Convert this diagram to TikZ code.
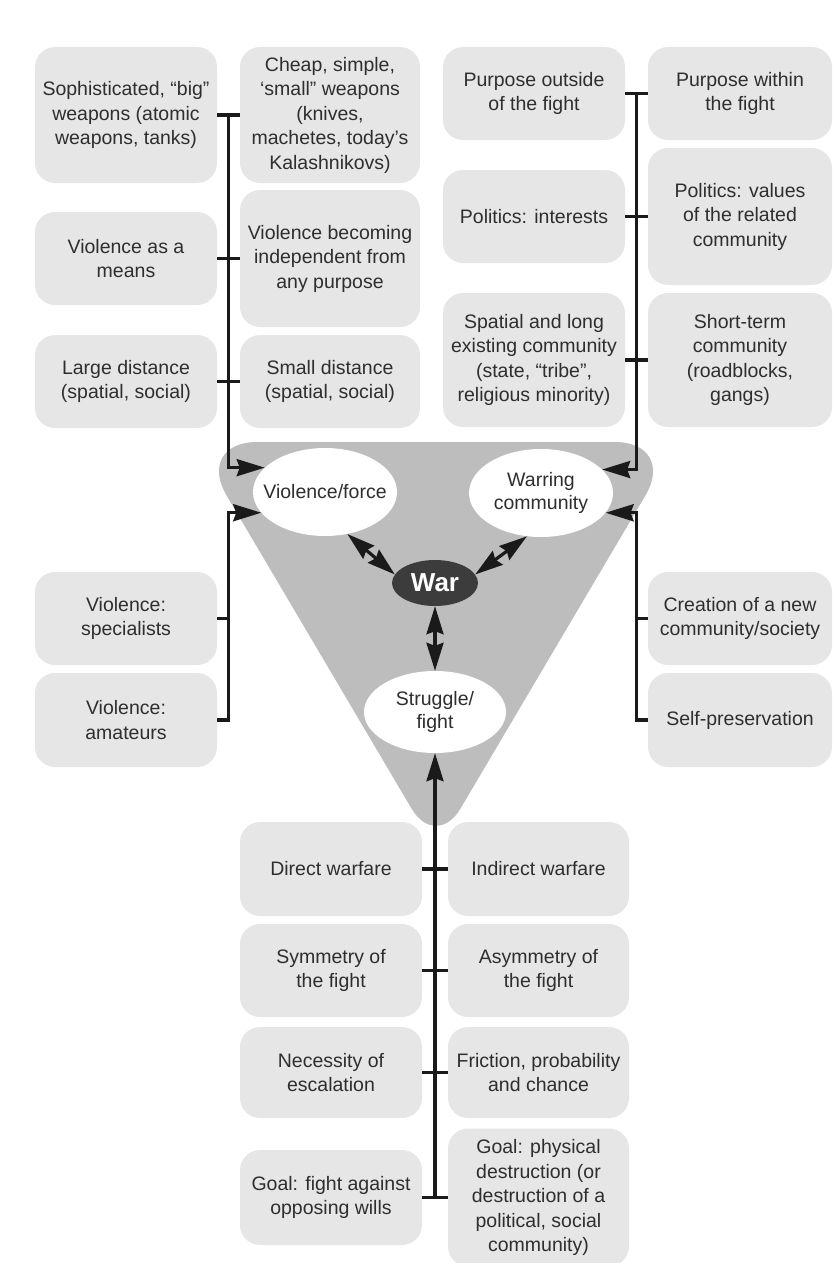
\documentclass[tikz,border=0pt]{standalone}
\usepackage{fontspec}
\setmainfont{Liberation Sans}
\usetikzlibrary{shapes.geometric,arrows.meta}
\definecolor{boxgray}{HTML}{E6E6E6}
\definecolor{trigray}{HTML}{BDBDBD}
\definecolor{wargray}{HTML}{3C3C3C}
\definecolor{txtgray}{HTML}{2E2E2E}
\definecolor{linecol}{HTML}{1A1A1A}
\begin{document}
\begin{tikzpicture}[x=1pt,y=-1pt,
  box/.style={fill=boxgray, rounded corners=20pt, inner sep=0pt, text=txtgray, align=center, font=\fontsize{19.5}{24.5}\selectfont},
  ell/.style={ellipse, fill=white, inner sep=0pt},
  elltext/.style={inner sep=0pt, text=txtgray, align=center, font=\fontsize{19.5}{23}\selectfont},
  conn/.style={draw=linecol, line width=3.2pt},
  arr/.style={conn, -{Stealth[length=28pt,width=17pt,inset=3pt]}},
  darr/.style={conn, {Stealth[length=28pt,width=17pt,inset=3pt]}-{Stealth[length=28pt,width=17pt,inset=3pt]}}]
\useasboundingbox (0,0) rectangle (834,1263);

% central triangle
\fill[trigray] (436,442) [rounded corners=62pt] -- (677,442) [rounded corners=48pt] -- (436,850) [rounded corners=62pt] -- (195,442) -- cycle;

% ellipses
\node[ell, minimum width=144pt, minimum height=88pt] (vf) at (325,492) {};
\node[elltext] (vft) at (vf.center) {Violence/force};
\node[ell, minimum width=144pt, minimum height=88pt] (wc) at (541,493) {};
\node[elltext] (wct) at (wc.center) {Warring\\community};
\node[ell, minimum width=142pt, minimum height=82pt] (sf) at (435,712) {};
\node[elltext] (sft) at (sf.center) {Struggle/\\fight};
\node[ell, fill=wargray, minimum width=86pt, minimum height=46pt] (war) at (435,583) {};
\node[inner sep=0pt, text=white, font=\fontsize{26}{28}\selectfont\bfseries] (wart) at (war.center) {War};

% top-left group
\node[box, minimum width=182pt, minimum height=136pt] (tl1) at (126,115) {Sophisticated, “big”\\weapons (atomic\\weapons, tanks)};
\node[box, minimum width=180pt, minimum height=136pt] (tr1) at (330,115) {Cheap, simple,\\‘small” weapons\\(knives,\\machetes, today’s\\Kalashnikovs)};
\node[box, minimum width=182pt, minimum height=93pt] (tl2) at (126,258.5) {Violence as a\\means};
\node[box, minimum width=180pt, minimum height=137pt] (tr2) at (330,258.5) {Violence becoming\\independent from\\any purpose};
\node[box, minimum width=182pt, minimum height=93pt] (tl3) at (126,381.5) {Large distance\\(spatial, social)};
\node[box, minimum width=180pt, minimum height=93pt] (tr3) at (330,381.5) {Small distance\\(spatial, social)};

% top-right group
\node[box, minimum width=182pt, minimum height=93pt] (rl1) at (534,93.5) {Purpose outside\\of the fight};
\node[box, minimum width=184pt, minimum height=93pt] (rr1) at (740,93.5) {Purpose within\\the fight};
\node[box, minimum width=182pt, minimum height=93pt] (rl2) at (534,216.5) {Politics: interests};
\node[box, minimum width=184pt, minimum height=137pt] (rr2) at (740,216.5) {Politics: values\\of the related\\community};
\node[box, minimum width=182pt, minimum height=134pt] (rl3) at (534,360) {Spatial and long\\existing community\\(state, “tribe”,\\religious minority)};
\node[box, minimum width=184pt, minimum height=134pt] (rr3) at (740,360) {Short-term\\community\\(roadblocks,\\gangs)};

% middle-left group
\node[box, minimum width=182pt, minimum height=93pt] (lm1) at (126,618.5) {Violence:\\specialists};
\node[box, minimum width=182pt, minimum height=94pt] (lm2) at (126,720) {Violence:\\amateurs};

% middle-right group
\node[box, minimum width=184pt, minimum height=93pt] (rm1) at (740,618.5) {Creation of a new\\community/society};
\node[box, minimum width=184pt, minimum height=94pt] (rm2) at (740,720) {Self-preservation};

% bottom group
\node[box, minimum width=182pt, minimum height=94pt] (bl1) at (331,869) {Direct warfare};
\node[box, minimum width=181pt, minimum height=94pt] (br1) at (538.5,869) {Indirect warfare};
\node[box, minimum width=182pt, minimum height=93pt] (bl2) at (331,970.5) {Symmetry of\\the fight};
\node[box, minimum width=181pt, minimum height=93pt] (br2) at (538.5,970.5) {Asymmetry of\\the fight};
\node[box, minimum width=182pt, minimum height=91pt] (bl3) at (331,1072.5) {Necessity of\\escalation};
\node[box, minimum width=181pt, minimum height=91pt] (br3) at (538.5,1072.5) {Friction, probability\\and chance};
\node[box, minimum width=182pt, minimum height=95pt] (bl4) at (331,1197.5) {Goal: fight against\\opposing wills};
\node[box, minimum width=181pt, minimum height=138pt] (br4) at (538.5,1197.5) {Goal: physical\\destruction (or\\destruction of a\\political, social\\community)};

% connectors: top-left
\draw[conn] (tl1.east) -- (tr1.west);
\draw[conn] (tl2.east) -- (tr2.west);
\draw[conn] (tl3.east) -- (tr3.west);
\coordinate (jtl) at (228.5,115);
\draw[arr] (jtl) |- (vf.158);

% connectors: top-right
\draw[conn] (rl1.east) -- (rr1.west);
\draw[conn] (rl2.east) -- (rr2.west);
\draw[conn] (rl3.east) -- (rr3.west);
\coordinate (jtr) at (636.5,93.5);
\draw[arr] (jtr) |- (wc.21);

% connectors: middle-left
\coordinate (jlm) at (228.5,600);
\draw[arr] (lm2.east) -| (jlm) |- (vf.198);
\draw[conn] (lm1.east) -- (lm1.east -| jlm);

% connectors: middle-right
\coordinate (jrm) at (636.5,600);
\draw[arr] (rm2.west) -| (jrm) |- (wc.-17);
\draw[conn] (rm1.west) -- (rm1.west -| jrm);

% connectors: bottom
\draw[conn] (bl1.east) -- (br1.west);
\draw[conn] (bl2.east) -- (br2.west);
\draw[conn] (bl3.east) -- (br3.west);
\draw[conn] (bl4.east) -- (br4.west);
\coordinate (jb) at (435,1197.5);
\draw[arr] (jb) -- (sf.south);

% central double arrows
\draw[darr] (vf.-62) -- (war.168);
\draw[darr] (wc.252) -- (war.12);
\draw[darr] (war.south) -- (sf.north);
\end{tikzpicture}
\end{document}
